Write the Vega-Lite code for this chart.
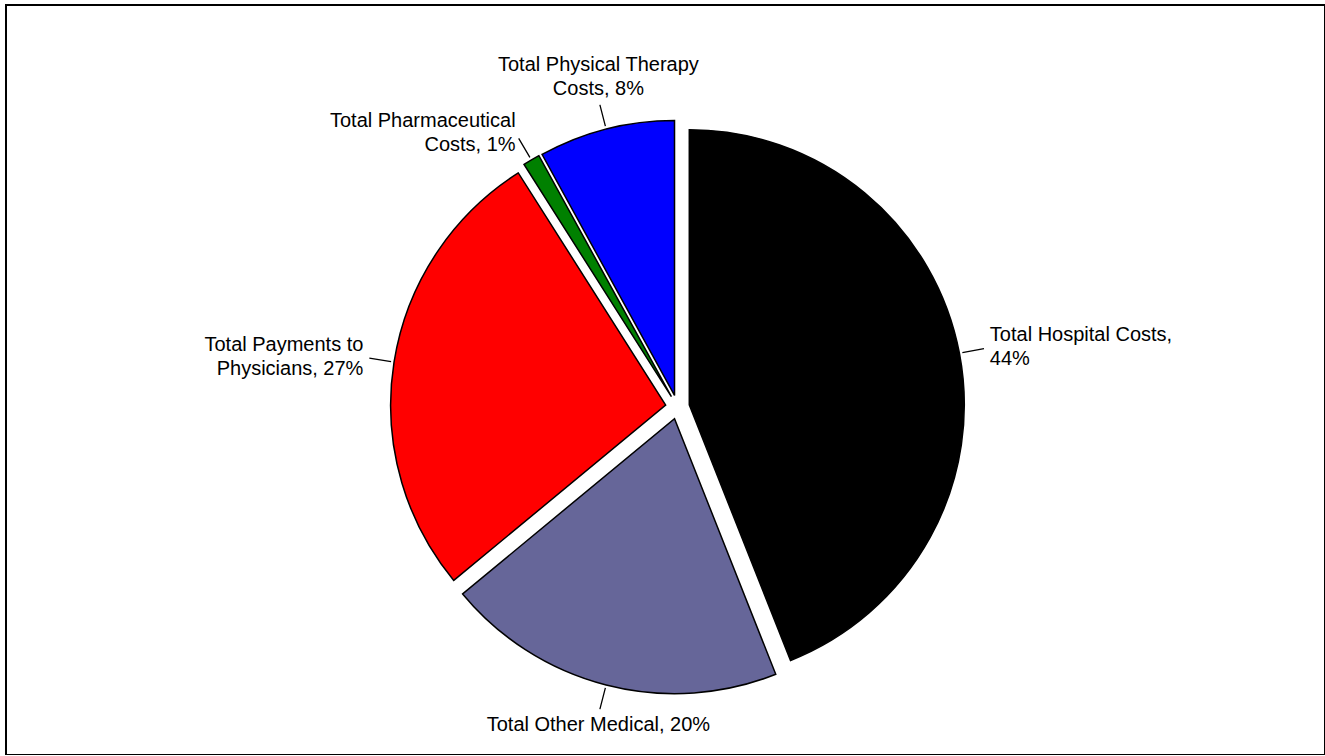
{
  "$schema": "https://vega.github.io/schema/vega-lite/v6.json",
  "width": 1319,
  "height": 750,
  "autosize": {"type": "none"},
  "padding": {"left": 6, "top": 5, "right": 0, "bottom": 0},
  "background": "white",
  "view": {"stroke": "black", "strokeWidth": 2, "fill": "white"},
  "config": {
    "view": {"stroke": "black", "strokeWidth": 2},
    "text": {"font": "Liberation Sans"}
  },
  "data": {
    "values": [
      {"category": "Total Hospital Costs", "value": 44, "order": 1, "label": "Total Hospital Costs,\n44%"},
      {"category": "Total Other Medical", "value": 20, "order": 2, "label": "Total Other Medical, 20%"},
      {"category": "Total Payments to Physicians", "value": 27, "order": 3, "label": "Total Payments to\nPhysicians, 27%"},
      {"category": "Total Pharmaceutical Costs", "value": 1, "order": 4, "label": "Total Pharmaceutical\nCosts, 1%"},
      {"category": "Total Physical Therapy Costs", "value": 8, "order": 5, "label": "Total Physical Therapy\nCosts, 8%"}
    ]
  },
  "encoding": {
    "theta": {"field": "value", "type": "quantitative", "stack": true},
    "order": {"field": "order", "type": "quantitative"},
    "detail": {"field": "category", "type": "nominal"}
  },
  "layer": [
    {
      "mark": {
        "type": "arc",
        "radius": 275,
        "stroke": "black",
        "strokeWidth": 1.5,
        "x": {"expr": "width/2 + 12"},
        "y": {"expr": "height/2 + 27"},
        "xOffset": {"expr": "12*sin(PI*(datum.value_start+datum.value_end)/100)"},
        "yOffset": {"expr": "-12*cos(PI*(datum.value_start+datum.value_end)/100)"}
      },
      "encoding": {
        "color": {
          "field": "category",
          "type": "nominal",
          "scale": {
            "domain": ["Total Hospital Costs", "Total Other Medical", "Total Payments to Physicians", "Total Pharmaceutical Costs", "Total Physical Therapy Costs"],
            "range": ["#000000", "#666699", "#ff0000", "#008000", "#0000ff"]
          },
          "legend": null
        }
      }
    },
    {
      "mark": {
        "type": "arc",
        "radius": 300,
        "radius2": 278,
        "padAngle": 3,
        "fillOpacity": 0,
        "stroke": "black",
        "strokeWidth": 1.3,
        "x": {"expr": "width/2 + 12"},
        "y": {"expr": "height/2 + 27"},
        "xOffset": {"expr": "12*sin(PI*(datum.value_start+datum.value_end)/100)"},
        "yOffset": {"expr": "-12*cos(PI*(datum.value_start+datum.value_end)/100)"}
      }
    },
    {
      "mark": {
        "type": "text",
        "radius": 306,
        "fontSize": 20,
        "lineBreak": "\n",
        "lineHeight": 24,
        "color": "black",
        "align": {"expr": "sin(PI*(datum.value_start+datum.value_end)/100) > 0.3 ? 'left' : (sin(PI*(datum.value_start+datum.value_end)/100) < -0.3 ? 'right' : 'center')"},
        "baseline": {"expr": "abs(sin(PI*(datum.value_start+datum.value_end)/100)) > 0.3 ? 'middle' : (cos(PI*(datum.value_start+datum.value_end)/100) > 0 ? 'bottom' : 'top')"},
        "dy": {"expr": "-(length(split(datum.label, '\\n')) - 1) * 24 * (abs(sin(PI*(datum.value_start+datum.value_end)/100)) > 0.3 ? 0.5 : (cos(PI*(datum.value_start+datum.value_end)/100) > 0 ? 1 : 0))"},
        "x": {"expr": "width/2 + 12"},
        "y": {"expr": "height/2 + 27"},
        "xOffset": {"expr": "12*sin(PI*(datum.value_start+datum.value_end)/100)"},
        "yOffset": {"expr": "-12*cos(PI*(datum.value_start+datum.value_end)/100)"}
      },
      "encoding": {
        "text": {"field": "label", "type": "nominal"}
      }
    }
  ]
}
